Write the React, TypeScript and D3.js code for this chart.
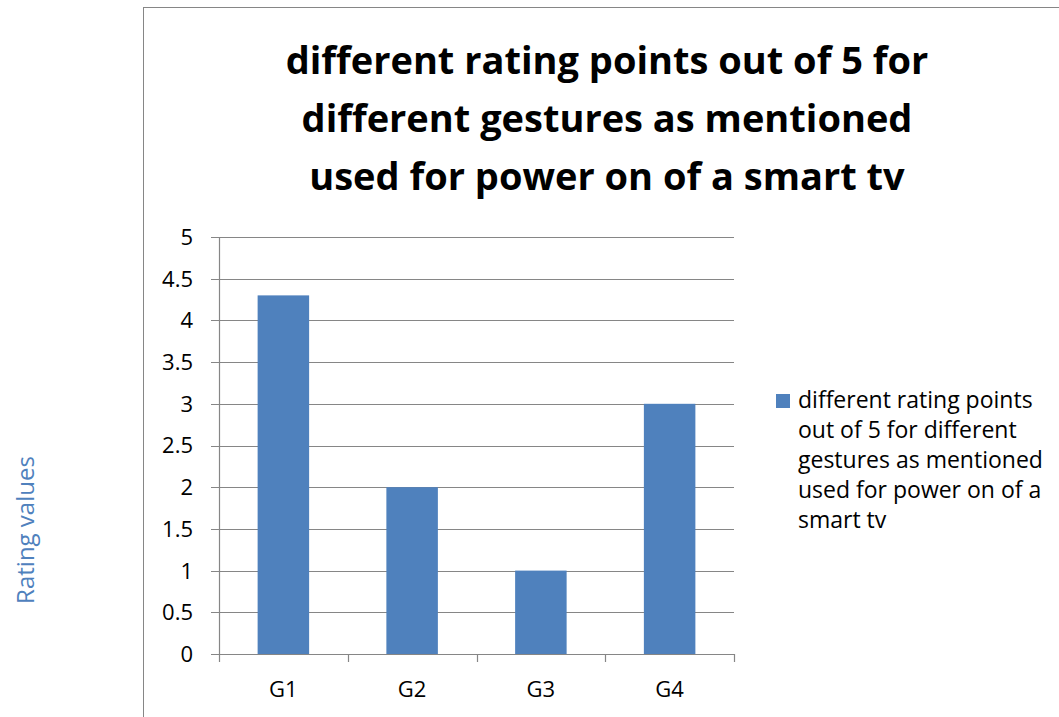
import * as d3 from 'd3';

const categories = ['G1', 'G2', 'G3', 'G4'];
const ratings = [4.3, 2, 1, 3];
const yTicks = [0, 0.5, 1, 1.5, 2, 2.5, 3, 3.5, 4, 4.5, 5];
const titleLines = [
  'different rating points out of 5 for',
  'different gestures as mentioned',
  'used for power on of a smart tv',
];
const legendLines = [
  'different rating points',
  'out of 5 for different',
  'gestures as mentioned',
  'used for power on of a',
  'smart tv',
];

const FONT = '"Open Sans", "Noto Sans", sans-serif';
const BAR = '#4f81bd';
const GRID = '#868686';

export default function App() {
  const width = 1059;
  const height = 717;
  const plot = { left: 219, right: 734, top: 237, bottom: 654 };

  const x = d3.scaleBand<string>()
    .domain(categories)
    .range([plot.left, plot.right])
    .paddingInner(0.6)
    .paddingOuter(0.3);

  const y = d3.scaleLinear().domain([0, 5]).range([plot.bottom, plot.top]);

  const tickXs = d3.range(categories.length + 1).map(i => plot.left + i * x.step());

  return (
    <svg
      width={width}
      height={height}
      style={{ position: 'fixed', left: 0, top: 0, background: '#fff' }}
      fontFamily={FONT}
    >
      {/* chart frame */}
      <rect x={143.5} y={7.5} width={1000} height={800} fill="#fff" stroke={GRID} strokeWidth={1} />

      {/* title */}
      {titleLines.map((t, i) => (
        <text
          key={t}
          x={607}
          y={74 + i * 58}
          textAnchor="middle"
          fontSize={38}
          fontWeight="bold"
          fill="#000"
        >
          {t}
        </text>
      ))}

      {/* gridlines + y ticks */}
      {yTicks.map(v => (
        <g key={v}>
          <line
            x1={plot.left - 8}
            x2={plot.right}
            y1={Math.round(y(v)) + 0.5}
            y2={Math.round(y(v)) + 0.5}
            stroke={GRID}
            strokeWidth={1.2}
          />
          <text x={193} y={y(v)} dy="0.36em" textAnchor="end" fontSize={22} fill="#000">
            {v}
          </text>
        </g>
      ))}

      {/* bars */}
      {categories.map((c, i) => (
        <rect
          key={c}
          x={x(c)}
          y={y(ratings[i])}
          width={x.bandwidth()}
          height={y(0) - y(ratings[i])}
          fill={BAR}
        />
      ))}

      {/* axes */}
      <line x1={plot.left + 0.5} x2={plot.left + 0.5} y1={plot.top} y2={plot.bottom} stroke={GRID} strokeWidth={1.2} />
      <line x1={plot.left} x2={plot.right} y1={plot.bottom + 0.5} y2={plot.bottom + 0.5} stroke={GRID} strokeWidth={1.2} />
      {tickXs.map(tx => (
        <line
          key={tx}
          x1={Math.round(tx) + 0.5}
          x2={Math.round(tx) + 0.5}
          y1={plot.bottom}
          y2={plot.bottom + 8}
          stroke={GRID}
          strokeWidth={1.2}
        />
      ))}
      {categories.map(c => (
        <text key={c} x={(x(c) ?? 0) + x.bandwidth() / 2} y={697} textAnchor="middle" fontSize={22} fill="#000">
          {c}
        </text>
      ))}

      {/* y axis title */}
      <text
        transform="translate(34,530) rotate(-90)"
        textAnchor="middle"
        fontSize={24}
        fill="#4f81bd"
      >
        Rating values
      </text>

      {/* legend */}
      <rect x={776} y={394} width={14} height={14} fill={BAR} />
      {legendLines.map((t, i) => (
        <text key={t} x={798} y={408 + i * 30} fontSize={23} fill="#000">
          {t}
        </text>
      ))}
    </svg>
  );
}
